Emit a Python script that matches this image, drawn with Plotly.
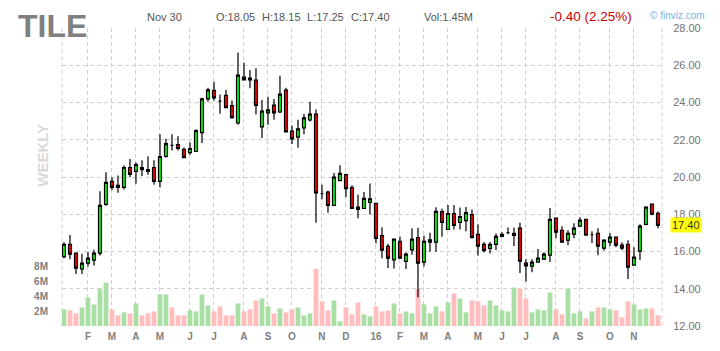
import plotly.graph_objects as go
import pandas as pd

# ---------------- data (weekly, TILE) ----------------
first_week = "2015-01-05"

opens = [15.73, 16.39, 15.91, 15.06, 15.38, 15.54, 15.91, 18.53, 19.76, 19.55,
         19.44, 20.51, 20.30, 20.51, 20.40, 20.51, 19.76, 21.10, 21.70, 21.74,
         21.49, 21.31, 21.37, 22.38, 24.20, 24.65, 24.07, 24.38, 23.83, 22.90,
         25.36, 25.31, 25.20, 22.69, 23.44, 23.86, 23.49, 24.67, 22.46, 22.14,
         22.64, 23.06, 23.38, 19.10, 19.19, 18.47, 19.81, 20.13, 19.43, 18.38,
         18.31, 18.63, 18.58, 16.85, 16.27, 15.55, 16.55, 15.47, 16.09, 16.75,
         15.43, 16.50, 16.50, 18.14, 17.18, 18.04, 17.56, 17.66, 17.98, 16.92,
         16.38, 16.17, 16.38, 16.81, 17.01, 16.86, 17.25, 15.38, 15.21, 15.43,
         15.59, 15.80, 17.79, 17.14, 16.61, 16.93, 17.36, 17.73, 16.90, 16.98,
         16.18, 16.50, 16.77, 16.34, 16.39, 15.27, 16.02, 17.46, 18.54, 18.05]
highs = [16.50, 16.89, 15.94, 15.88, 15.98, 16.09, 19.24, 20.26, 19.98, 20.08,
         20.62, 20.96, 20.78, 20.90, 21.12, 20.90, 22.29, 22.06, 22.29, 22.19,
         21.58, 21.85, 22.56, 24.25, 24.79, 25.11, 24.43, 24.68, 24.11, 26.68,
         26.14, 25.75, 25.84, 24.13, 24.31, 24.19, 25.43, 24.79, 22.76, 23.08,
         23.38, 24.04, 23.62, 19.59, 19.27, 20.22, 20.63, 20.18, 19.56, 19.06,
         19.20, 19.65, 18.60, 17.30, 16.41, 16.68, 16.80, 15.95, 17.25, 17.28,
         16.85, 17.01, 18.37, 18.30, 18.50, 18.50, 18.36, 18.39, 18.25, 17.45,
         16.51, 16.51, 16.97, 17.04, 17.29, 17.29, 17.55, 15.59, 15.59, 16.14,
         15.96, 18.34, 17.80, 17.36, 17.14, 17.52, 17.84, 17.75, 17.09, 17.25,
         16.66, 16.98, 16.80, 16.50, 16.61, 16.23, 17.46, 18.43, 18.55, 18.15]
lows = [15.63, 15.59, 14.79, 14.79, 15.20, 15.25, 15.79, 18.46, 19.30, 19.16,
        19.33, 19.99, 19.64, 20.06, 20.12, 19.58, 19.44, 21.05, 21.42, 21.42,
        21.01, 21.20, 21.35, 21.83, 24.04, 24.11, 23.40, 23.70, 23.13, 22.81,
        25.20, 24.77, 23.35, 22.09, 22.81, 23.08, 23.44, 22.40, 21.77, 21.57,
        22.30, 22.98, 17.55, 18.81, 18.08, 18.45, 19.79, 18.92, 18.29, 17.78,
        18.29, 17.99, 16.44, 15.64, 15.11, 15.09, 15.62, 15.06, 15.82, 13.55,
        15.20, 15.98, 15.98, 16.79, 17.16, 17.18, 17.18, 17.09, 16.69, 15.78,
        15.94, 15.89, 16.08, 16.76, 16.92, 16.29, 14.84, 14.39, 14.88, 15.41,
        15.54, 15.43, 16.71, 16.48, 16.34, 16.71, 17.34, 16.86, 16.45, 15.80,
        16.05, 16.29, 16.23, 16.07, 14.52, 15.25, 15.54, 17.41, 17.95, 17.25]
closes = [16.39, 15.86, 15.11, 15.38, 15.64, 15.91, 18.48, 19.71, 19.44, 19.44,
          20.51, 20.14, 20.67, 20.40, 20.30, 19.76, 21.10, 21.79, 21.70, 21.53,
          21.04, 21.53, 22.49, 24.20, 24.68, 24.25, 24.07, 23.72, 23.18, 25.47,
          25.22, 25.22, 23.85, 23.54, 23.60, 23.44, 24.45, 22.42, 22.05, 22.58,
          23.17, 23.38, 19.15, 19.10, 18.47, 20.00, 20.20, 19.38, 18.31, 18.26,
          18.85, 18.83, 16.71, 16.07, 15.64, 16.66, 15.64, 15.86, 16.66, 15.38,
          16.55, 16.62, 18.15, 17.56, 18.04, 17.40, 17.88, 18.09, 16.76, 16.29,
          16.06, 16.38, 16.81, 16.92, 17.01, 16.97, 15.48, 15.23, 15.43, 15.64,
          15.86, 17.73, 17.04, 16.50, 16.98, 17.25, 17.68, 16.88, 16.90, 16.29,
          16.61, 16.77, 16.34, 16.18, 15.16, 15.70, 17.36, 18.38, 18.00, 17.40]
volumes_m = [2.24, 2.11, 1.70, 2.51, 3.86, 2.91, 5.02, 5.87, 2.24, 1.43,
             1.84, 1.70, 3.05, 1.43, 1.70, 1.97, 4.26, 4.26, 2.51, 1.43,
             1.43, 2.11, 1.97, 4.26, 2.78, 1.97, 2.65, 1.43, 1.43, 3.05,
             1.97, 2.24, 3.45, 3.72, 2.65, 1.70, 2.38, 1.84, 2.24, 2.51,
             1.43, 1.70, 7.76, 3.32, 2.11, 3.45, 0.63, 2.51, 1.57, 3.18,
             1.57, 1.30, 2.65, 1.97, 2.11, 3.05, 1.70, 1.97, 1.70, 5.02,
             2.91, 1.70, 2.65, 1.97, 3.18, 4.39, 3.72, 1.84, 3.45, 3.32,
             2.78, 3.45, 2.78, 2.11, 1.97, 5.20, 5.02, 3.72, 1.84, 2.24,
             2.11, 4.53, 2.24, 1.57, 5.02, 1.70, 1.97, 1.03, 1.97, 2.51,
             2.51, 2.24, 2.11, 1.17, 3.32, 2.91, 2.24, 2.38, 2.38, 1.45]

month_tick_weeks = ["2015-02-02", "2015-03-02", "2015-03-30", "2015-04-27", "2015-06-01",
                    "2015-06-29", "2015-08-03", "2015-08-31", "2015-09-28", "2015-11-02",
                    "2015-11-30", "2016-01-04", "2016-02-01", "2016-02-29", "2016-03-28",
                    "2016-05-02", "2016-05-30", "2016-06-27", "2016-08-01", "2016-08-29",
                    "2016-10-03", "2016-10-31"]
month_tick_labels = ["F", "M", "A", "M", "J", "J", "A", "S", "O", "N", "D",
                     "16", "F", "M", "A", "M", "J", "J", "A", "S", "O", "N"]

price_ticks = [12, 14, 16, 18, 20, 22, 24, 26, 28]
volume_ticks = [2, 4, 6, 8]
volume_tick_labels = ["2M", "4M", "6M", "8M"]

ticker = "TILE"
header_date = "Nov 30"
header_ohlc = ["O:18.05", "H:18.15", "L:17.25", "C:17.40"]
header_vol = "Vol:1.45M"
header_change = "-0.40 (2.25%)"

# ---------------- derived ----------------
weeks = pd.date_range(first_week, periods=len(closes), freq="W-MON").strftime("%Y-%m-%d").tolist()
vol_colors = []
for i in range(len(closes)):
    if closes[i] > opens[i]:
        up = True
    elif closes[i] < opens[i]:
        up = False
    else:
        up = i == 0 or closes[i] >= closes[i - 1]
    vol_colors.append("#a9dfa4" if up else "#ffbdbd")

FONT = "Liberation Sans, Arial, sans-serif"
W, H = 720, 351
ML, MR, MT, MB = 62, 58, 28, 25
PW, PH = W - ML - MR, H - MT - MB


def px(x):
    return (x - ML) / PW


def py(y):
    return (H - MB - y) / PH


fig = go.Figure()
fig.add_trace(go.Bar(
    x=weeks, y=volumes_m, marker_color=vol_colors, marker_line_width=0,
    width=0.8, yaxis="y", xaxis="x", showlegend=False, hoverinfo="skip"))
fig.add_trace(go.Candlestick(
    x=weeks, open=opens, high=highs, low=lows, close=closes,
    yaxis="y2", xaxis="x", showlegend=False, whiskerwidth=0,
    increasing=dict(fillcolor="#00ff00", line=dict(color="#000000", width=1.2)),
    decreasing=dict(fillcolor="#ff0000", line=dict(color="#000000", width=1.2))))

grid_col = "#d0d0d0"
fig.update_layout(
    width=W, height=H, margin=dict(l=ML, r=MR, t=MT, b=MB, pad=0, autoexpand=False),
    paper_bgcolor="white", plot_bgcolor="white",
    boxgap=0.3,
    font=dict(family=FONT, color="#777777"),
    xaxis=dict(type="category", range=[-0.33, len(closes) - 0.33], automargin=False,
               tickmode="array", tickvals=month_tick_weeks, ticktext=month_tick_labels,
               showgrid=True, gridcolor=grid_col, griddash="4px,3px", gridwidth=1,
               ticks="outside", ticklen=1, tickcolor="rgba(0,0,0,0)",
               tickfont=dict(family=FONT, size=10, color="#808080", weight="bold"),
               rangeslider=dict(visible=False), showline=False, zeroline=False,
               fixedrange=True),
    yaxis=dict(range=[0, PH / 7.4], side="left", showgrid=False, zeroline=False,
               automargin=False,
               tickmode="array", tickvals=volume_ticks, ticktext=volume_tick_labels,
               ticks="outside", ticklen=11, tickcolor="rgba(0,0,0,0)",
               tickfont=dict(family=FONT, size=10, color="#808080", weight="bold"),
               showline=False),
    yaxis2=dict(range=[12, 28], overlaying="y", side="right", automargin=False,
                tickmode="array", tickvals=price_ticks,
                ticktext=[f"{v:.2f}" for v in price_ticks],
                showgrid=True, gridcolor=grid_col, griddash="4px,3px", gridwidth=1,
                zeroline=False, showline=False,
                ticks="outside", ticklen=8, tickcolor="rgba(0,0,0,0)",
                tickfont=dict(family=FONT, size=11, color="#737373")),
)

# dashed frame edges (left/right)
for xe in (0, 1):
    fig.add_shape(type="line", xref="paper", yref="paper", x0=xe, x1=xe, y0=0, y1=1,
                  line=dict(color=grid_col, width=1, dash="4px,3px"), layer="below")

ann = []
ann.append(dict(text=f"<b>{ticker}</b>", x=px(52), y=py(25.5), xanchor="center", yanchor="middle",
                font=dict(family=FONT, size=32, color="#808080")))
ann.append(dict(text=header_date, x=px(145), y=py(16.5), xanchor="left", yanchor="middle",
                font=dict(family=FONT, size=11, color="#555555")))
for txt, xp in zip(header_ohlc, [214.3, 260.2, 304.8, 349.0]):
    ann.append(dict(text=txt, x=px(xp), y=py(16.5), xanchor="left", yanchor="middle",
                    font=dict(family=FONT, size=11, color="#555555")))
ann.append(dict(text=header_vol, x=px(421.6), y=py(16.5), xanchor="left", yanchor="middle",
                font=dict(family=FONT, size=11, color="#555555")))
ann.append(dict(text=header_change, x=px(547.7), y=py(16.5), xanchor="left", yanchor="middle",
                font=dict(family=FONT, size=13.5, color="#cc0000")))
ann.append(dict(text="© finviz.com", x=px(647.5), y=py(15), xanchor="left", yanchor="middle",
                font=dict(family=FONT, size=10, color="#7fb0e0")))
ann.append(dict(text="<b>WEEKLY</b>", x=px(41.7), y=py(155), xanchor="center", yanchor="middle",
                textangle=-90, font=dict(family=FONT, size=15, color="#d9d9d9")))
ann.append(dict(text=f"{closes[-1]:.2f}", x=px(686), xref="paper", y=closes[-1], yref="y2",
                xanchor="center", yanchor="middle", bgcolor="#ffff00", borderpad=1,
                font=dict(family=FONT, size=11, color="#333333")))
for a in ann:
    a.setdefault("xref", "paper")
    a.setdefault("yref", "paper")
    a["showarrow"] = False
fig.update_layout(annotations=ann)

fig.write_html("out.html")
